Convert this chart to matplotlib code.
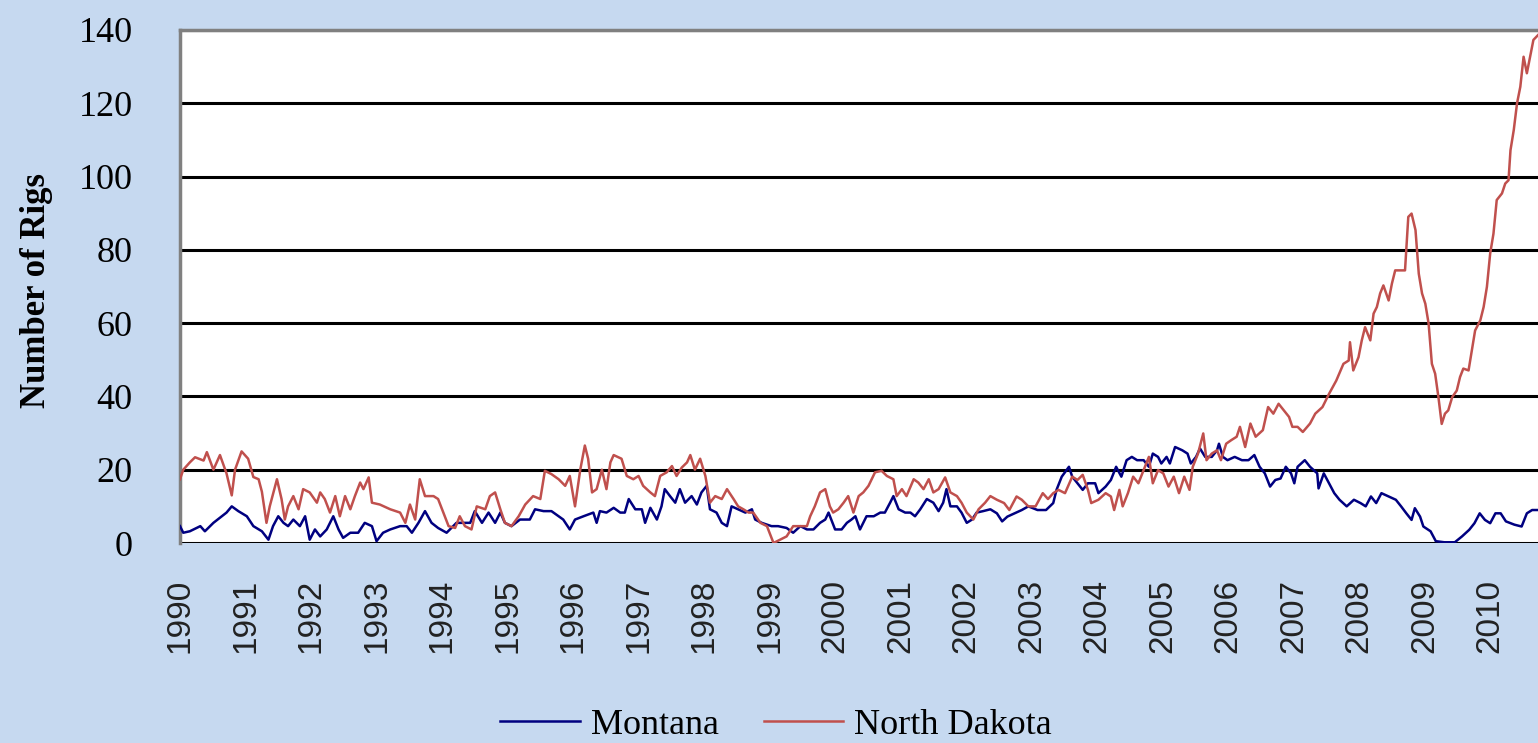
import matplotlib.pyplot as plt

# weekly rig counts (decimal year, number of rigs)
montana_year = [
    1990.00, 1990.05, 1990.15, 1990.31, 1990.38, 1990.51, 1990.64, 1990.71, 1990.79, 1990.89,
    1991.02, 1991.12, 1991.25, 1991.35, 1991.42, 1991.50, 1991.58, 1991.65, 1991.73, 1991.83,
    1991.91, 1991.98, 1992.06, 1992.14, 1992.24, 1992.34, 1992.42, 1992.49, 1992.60, 1992.72,
    1992.82, 1992.93, 1993.00, 1993.10, 1993.21, 1993.36, 1993.46, 1993.54, 1993.64, 1993.74,
    1993.84, 1993.94, 1994.07, 1994.22, 1994.33, 1994.43, 1994.50, 1994.61, 1994.71, 1994.81,
    1994.89, 1994.96, 1995.06, 1995.19, 1995.34, 1995.42, 1995.55, 1995.67, 1995.78, 1995.85,
    1995.95, 1996.03, 1996.16, 1996.31, 1996.36, 1996.41, 1996.51, 1996.62, 1996.72, 1996.79,
    1996.85, 1996.95, 1997.05, 1997.10, 1997.18, 1997.28, 1997.35, 1997.40, 1997.48, 1997.56,
    1997.63, 1997.71, 1997.81, 1997.89, 1997.96, 1998.04, 1998.09, 1998.19, 1998.27, 1998.35,
    1998.42, 1998.52, 1998.63, 1998.73, 1998.78, 1998.88, 1999.03, 1999.13, 1999.26, 1999.36,
    1999.47, 1999.57, 1999.67, 1999.77, 1999.85, 1999.90, 2000.00, 2000.10, 2000.18, 2000.25,
    2000.31, 2000.38, 2000.48, 2000.59, 2000.69, 2000.76, 2000.84, 2000.89, 2000.97, 2001.07,
    2001.15, 2001.22, 2001.30, 2001.40, 2001.50, 2001.58, 2001.65, 2001.70, 2001.76, 2001.86,
    2001.93, 2002.01, 2002.09, 2002.16, 2002.26, 2002.37, 2002.47, 2002.55, 2002.63, 2002.74,
    2002.85, 2002.95, 2003.09, 2003.22, 2003.33, 2003.38, 2003.46, 2003.57, 2003.62, 2003.70,
    2003.78, 2003.86, 2003.97, 2004.02, 2004.13, 2004.21, 2004.29, 2004.37, 2004.45, 2004.53,
    2004.61, 2004.71, 2004.79, 2004.85, 2004.93, 2004.98, 2005.06, 2005.11, 2005.19, 2005.30,
    2005.38, 2005.43, 2005.51, 2005.57, 2005.65, 2005.75, 2005.83, 2005.86, 2005.92, 2005.99,
    2006.10, 2006.21, 2006.31, 2006.40, 2006.48, 2006.56, 2006.64, 2006.72, 2006.80, 2006.88,
    2006.96, 2007.01, 2007.06, 2007.17, 2007.25, 2007.36, 2007.38, 2007.46, 2007.54, 2007.62,
    2007.70, 2007.81, 2007.92, 2008.02, 2008.10, 2008.18, 2008.26, 2008.34, 2008.45, 2008.56,
    2008.64, 2008.72, 2008.80, 2008.85, 2008.93, 2008.98, 2009.09, 2009.17, 2009.30, 2009.46,
    2009.57, 2009.68, 2009.76, 2009.84, 2009.92, 2010.00, 2010.08, 2010.16, 2010.24, 2010.37,
    2010.48, 2010.56, 2010.64, 2010.73,
]
montana_rigs = [
    4.6, 2.8, 3.2, 4.6, 3.2, 5.5, 7.3, 8.3, 10.0, 8.7,
    7.3, 4.6, 3.2, 0.9, 4.6, 7.3, 5.5, 4.6, 6.4, 4.6,
    7.3, 0.9, 3.7, 1.8, 3.7, 7.3, 3.7, 1.4, 2.8, 2.8,
    5.5, 4.6, 0.5, 2.8, 3.7, 4.6, 4.6, 2.8, 5.5, 8.7,
    5.5, 4.1, 2.8, 5.5, 5.5, 5.5, 8.7, 5.5, 8.3, 5.5,
    8.3, 5.5, 4.6, 6.4, 6.4, 9.2, 8.7, 8.7, 7.3, 6.4,
    3.7, 6.4, 7.3, 8.3, 5.5, 8.7, 8.3, 9.6, 8.3, 8.3,
    12.0, 9.2, 9.2, 5.5, 9.6, 6.4, 10.0, 14.7, 12.8, 11.0,
    14.7, 11.0, 12.8, 10.5, 13.8, 15.6, 9.2, 8.3, 5.5, 4.6,
    10.0, 9.2, 8.3, 9.2, 6.4, 5.5, 4.6, 4.6, 4.1, 2.8,
    4.6, 3.7, 3.7, 5.5, 6.4, 8.3, 3.7, 3.7, 5.5, 6.4,
    7.3, 3.7, 7.3, 7.3, 8.3, 8.3, 11.0, 12.8, 9.2, 8.3,
    8.3, 7.3, 9.2, 12.0, 11.0, 8.7, 11.0, 14.7, 10.0, 10.0,
    8.3, 5.5, 6.4, 8.3, 8.7, 9.2, 8.1, 5.9, 7.2, 8.1,
    9.0, 10.0, 9.0, 9.0, 10.9, 14.5, 18.1, 20.8, 18.1, 16.3,
    14.5, 16.3, 16.3, 13.6, 15.4, 17.2, 20.8, 18.1, 22.6, 23.5,
    22.6, 22.6, 20.8, 24.4, 23.5, 21.7, 23.5, 21.7, 26.2, 25.3,
    24.4, 21.7, 23.5, 25.8, 23.5, 23.5, 25.3, 27.1, 23.5, 22.6,
    23.5, 22.6, 22.6, 24.0, 20.8, 19.0, 15.4, 17.2, 17.6, 20.8,
    19.0, 16.3, 20.8, 22.6, 20.8, 19.0, 14.9, 19.0, 16.3, 13.6,
    11.8, 10.0, 11.8, 10.9, 10.0, 12.7, 10.9, 13.6, 12.7, 11.8,
    10.0, 8.1, 6.3, 9.5, 7.2, 4.5, 3.2, 0.5, 0.2, 0.2,
    1.8, 3.6, 5.4, 8.1, 6.3, 5.4, 8.1, 8.1, 5.9, 5.0,
    4.5, 8.1, 9.0, 9.0,
]

ndakota_year = [
    1990.00, 1990.05, 1990.15, 1990.23, 1990.36, 1990.41, 1990.51, 1990.61, 1990.71, 1990.79,
    1990.84, 1990.94, 1991.04, 1991.12, 1991.20, 1991.25, 1991.32, 1991.37, 1991.48, 1991.55,
    1991.60, 1991.65, 1991.73, 1991.81, 1991.88, 1991.98, 1992.09, 1992.14, 1992.21, 1992.29,
    1992.37, 1992.44, 1992.52, 1992.60, 1992.67, 1992.75, 1992.80, 1992.88, 1992.93, 1993.05,
    1993.21, 1993.36, 1993.44, 1993.51, 1993.59, 1993.66, 1993.74, 1993.87, 1993.94, 1994.02,
    1994.10, 1994.20, 1994.27, 1994.35, 1994.45, 1994.53, 1994.66, 1994.73, 1994.81, 1994.89,
    1994.96, 1995.06, 1995.17, 1995.27, 1995.39, 1995.50, 1995.57, 1995.67, 1995.78, 1995.88,
    1995.95, 1996.03, 1996.11, 1996.18, 1996.23, 1996.29, 1996.36, 1996.44, 1996.51, 1996.57,
    1996.62, 1996.74, 1996.82, 1996.92, 1997.00, 1997.07, 1997.18, 1997.25, 1997.33, 1997.43,
    1997.51, 1997.58, 1997.66, 1997.74, 1997.79, 1997.86, 1997.94, 1998.02, 1998.09, 1998.17,
    1998.27, 1998.35, 1998.45, 1998.52, 1998.60, 1998.68, 1998.75, 1998.86, 1998.96, 1999.06,
    1999.16, 1999.26, 1999.36, 1999.47, 1999.57, 1999.62, 1999.69, 1999.77, 1999.85, 1999.92,
    1999.97, 2000.05, 2000.13, 2000.20, 2000.28, 2000.36, 2000.43, 2000.51, 2000.61, 2000.71,
    2000.79, 2000.89, 2000.94, 2001.02, 2001.09, 2001.20, 2001.27, 2001.35, 2001.43, 2001.50,
    2001.58, 2001.68, 2001.76, 2001.86, 2001.93, 2002.01, 2002.11, 2002.19, 2002.29, 2002.37,
    2002.47, 2002.58, 2002.66, 2002.77, 2002.85, 2002.95, 2003.06, 2003.17, 2003.25, 2003.33,
    2003.41, 2003.51, 2003.62, 2003.70, 2003.78, 2003.86, 2003.91, 2004.02, 2004.13, 2004.21,
    2004.26, 2004.34, 2004.39, 2004.47, 2004.55, 2004.63, 2004.71, 2004.79, 2004.85, 2004.93,
    2005.01, 2005.09, 2005.17, 2005.25, 2005.33, 2005.41, 2005.46, 2005.54, 2005.62, 2005.67,
    2005.75, 2005.83, 2005.89, 2005.97, 2006.05, 2006.13, 2006.18, 2006.26, 2006.34, 2006.42,
    2006.53, 2006.61, 2006.69, 2006.77, 2006.85, 2006.93, 2006.98, 2007.06, 2007.14, 2007.25,
    2007.33, 2007.44, 2007.54, 2007.65, 2007.76, 2007.84, 2007.86, 2007.91, 2007.99, 2008.04,
    2008.09, 2008.17, 2008.22, 2008.27, 2008.32, 2008.37, 2008.45, 2008.50, 2008.55, 2008.63,
    2008.70, 2008.75, 2008.80, 2008.86, 2008.91, 2008.96, 2009.01, 2009.06, 2009.11, 2009.16,
    2009.21, 2009.26, 2009.31, 2009.36, 2009.42, 2009.49, 2009.54, 2009.59, 2009.67, 2009.72,
    2009.77, 2009.85, 2009.90, 2009.95, 2010.00, 2010.05, 2010.10, 2010.18, 2010.23, 2010.28,
    2010.31, 2010.36, 2010.41, 2010.46, 2010.51, 2010.56, 2010.61, 2010.66, 2010.73,
]
ndakota_rigs = [
    17.4, 20.0, 22.0, 23.4, 22.5, 24.8, 20.0, 24.0, 19.0, 13.0,
    20.0, 25.0, 23.0, 18.0, 17.4, 14.0, 5.5, 10.0, 17.4, 12.0,
    6.4, 10.0, 12.8, 9.2, 14.7, 13.8, 11.0, 13.8, 12.0, 8.3,
    12.8, 7.3, 12.8, 9.2, 12.8, 16.5, 14.7, 17.9, 11.0, 10.5,
    9.2, 8.3, 5.5, 10.5, 6.4, 17.4, 12.8, 12.8, 12.0, 8.3,
    4.6, 4.1, 7.3, 4.6, 3.7, 10.0, 9.2, 12.8, 13.8, 9.2,
    5.5, 4.6, 7.3, 10.5, 12.8, 12.0, 19.7, 18.8, 17.4, 15.6,
    18.3, 10.0, 20.0, 26.6, 23.0, 13.8, 14.7, 20.0, 14.7, 22.0,
    24.0, 23.0, 18.3, 17.4, 18.3, 15.6, 13.8, 12.8, 18.3, 19.3,
    21.0, 18.3, 20.6, 22.0, 24.0, 20.0, 23.0, 18.3, 11.0, 12.8,
    12.0, 14.7, 12.0, 10.0, 9.2, 8.3, 8.3, 5.5, 4.6, 0.0,
    0.9, 1.8, 4.6, 4.6, 4.6, 7.3, 10.0, 13.8, 14.7, 10.0,
    8.3, 9.2, 11.0, 12.8, 8.3, 12.8, 13.8, 15.6, 19.3, 19.7,
    18.3, 17.4, 12.8, 14.7, 12.8, 17.4, 16.5, 14.7, 17.4, 13.8,
    14.7, 17.9, 13.8, 12.8, 11.0, 8.3, 6.4, 9.2, 11.0, 12.8,
    11.8, 10.9, 9.0, 12.7, 11.8, 10.0, 10.0, 13.6, 12.0, 13.6,
    14.5, 13.6, 18.1, 17.2, 18.6, 14.5, 10.9, 11.8, 13.6, 12.7,
    9.0, 14.5, 10.0, 13.6, 18.1, 16.3, 19.9, 23.5, 16.3, 19.9,
    19.0, 15.4, 18.1, 13.6, 18.1, 14.5, 20.8, 24.4, 29.9, 22.6,
    24.4, 25.3, 22.6, 27.1, 28.1, 29.0, 31.7, 26.2, 32.6, 29.0,
    30.8, 37.1, 35.3, 38.0, 36.2, 34.4, 31.7, 31.7, 30.3, 32.6,
    35.3, 37.1, 40.7, 44.3, 48.9, 49.8, 54.8, 47.1, 50.7, 55.3,
    58.9, 55.3, 62.6, 64.4, 68.1, 70.3, 66.2, 70.8, 74.4, 74.4,
    74.4, 89.0, 89.9, 85.4, 73.5, 68.1, 65.3, 59.9, 48.9, 46.2,
    39.8, 32.5, 35.3, 36.2, 39.8, 41.6, 45.3, 47.6, 47.1, 52.6,
    58.0, 60.8, 64.4, 69.9, 79.0, 84.4, 93.6, 95.4, 98.1, 99.0,
    107.2, 112.7, 120.0, 124.5, 132.7, 128.2, 132.7, 137.3, 138.6,
]

year_ticks = list(range(1990, 2011))
rig_ticks = [0, 20, 40, 60, 80, 100, 120, 140]

bg = '#C6D9F0'
fig = plt.figure(figsize=(15.38, 7.43), dpi=100, facecolor=bg)
ax = fig.add_axes([180 / 1538, 1 - 543 / 743, 1 - 180 / 1538, (543 - 30) / 743])
ax.set_facecolor('white')

ax.plot(montana_year, montana_rigs, color='#000080', lw=1.8, label='Montana', zorder=3)
ax.plot(ndakota_year, ndakota_rigs, color='#C0504D', lw=1.8, label='North Dakota', zorder=4)

ax.set_xlim(1990, 2010.73)
ax.set_ylim(0, 140)
ax.set_yticks(rig_ticks)
ax.set_xticks(year_ticks)
ax.set_xticklabels([str(y) for y in year_ticks], rotation=90,
                   fontfamily='Liberation Sans', fontsize=24, color='#222222')
ax.set_yticklabels([str(v) for v in rig_ticks], fontfamily='Liberation Serif', fontsize=26)
ax.tick_params(axis='both', length=0)
ax.tick_params(axis='y', pad=34)
ax.tick_params(axis='x', pad=26)

ax.yaxis.grid(True, color='black', lw=2.2)
ax.set_axisbelow(True)
for side in ['right', 'bottom']:
    ax.spines[side].set_visible(False)
ax.spines['left'].set_color('#808080')
ax.spines['left'].set_linewidth(2.5)
ax.spines['top'].set_color('#808080')
ax.spines['top'].set_linewidth(2.5)

fig.text(37 / 1538, 1 - 291 / 743, 'Number of Rigs', rotation=90, ha='center', va='center',
         fontfamily='Liberation Serif', fontweight='bold', fontsize=25)

fig.legend(loc='center', bbox_to_anchor=(776 / 1538, 1 - 725 / 743), ncol=2, frameon=False,
           prop={'family': 'Liberation Serif', 'size': 26}, handlelength=2.2,
           handletextpad=0.3, columnspacing=1.25, borderaxespad=0, borderpad=0)

fig.savefig('out.png', dpi=100, facecolor=bg)
